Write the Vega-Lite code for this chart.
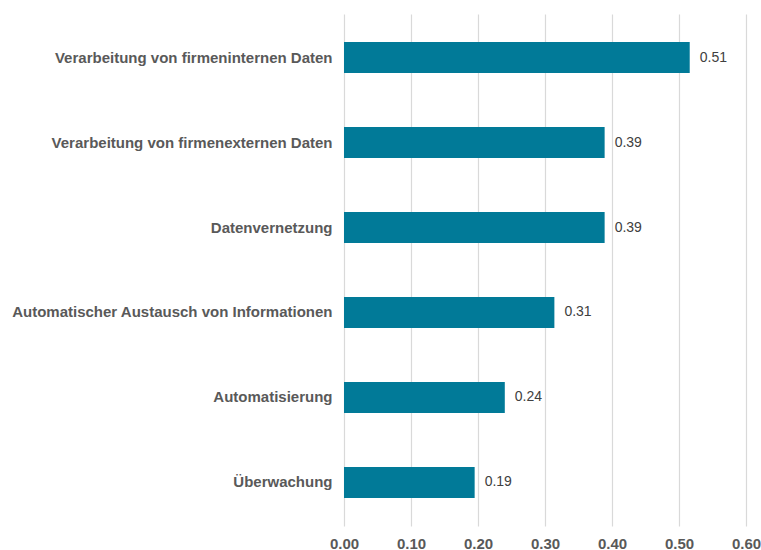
{
  "$schema": "https://vega.github.io/schema/vega-lite/v6.json",
  "width": 402,
  "height": 512,
  "autosize": {"type": "none"},
  "padding": {"left": 344, "top": 14, "right": 15, "bottom": 24},
  "background": "white",
  "config": {"view": {"stroke": null}, "font": "Liberation Sans"},
  "data": {
    "values": [
      {"kategorie": "Verarbeitung von firmeninternen Daten", "wert": 0.516, "label": "0.51"},
      {"kategorie": "Verarbeitung von firmenexternen Daten", "wert": 0.389, "label": "0.39"},
      {"kategorie": "Datenvernetzung", "wert": 0.389, "label": "0.39"},
      {"kategorie": "Automatischer Austausch von Informationen", "wert": 0.314, "label": "0.31"},
      {"kategorie": "Automatisierung", "wert": 0.24, "label": "0.24"},
      {"kategorie": "Überwachung", "wert": 0.195, "label": "0.19"}
    ]
  },
  "encoding": {
    "y": {
      "field": "kategorie",
      "type": "nominal",
      "sort": null,
      "scale": {"paddingInner": 0.635, "paddingOuter": 0.33},
      "axis": {
        "title": null,
        "domain": false,
        "ticks": false,
        "labelPadding": 12,
        "labelFont": "Liberation Sans",
        "labelFontSize": 15,
        "labelFontWeight": "bold",
        "labelColor": "#595959",
        "labelLimit": 400
      }
    },
    "x": {
      "field": "wert",
      "type": "quantitative",
      "scale": {"domain": [0, 0.6], "nice": false},
      "axis": {
        "title": null,
        "values": [0, 0.1, 0.2, 0.3, 0.4, 0.5, 0.6],
        "format": ".2f",
        "domain": false,
        "ticks": false,
        "grid": true,
        "gridColor": "#d9d9d9",
        "gridWidth": 1.2,
        "labelPadding": 10,
        "labelFont": "Liberation Sans",
        "labelFontSize": 15,
        "labelFontWeight": "bold",
        "labelColor": "#595959",
        "labelFlush": false
      }
    }
  },
  "layer": [
    {"mark": {"type": "bar", "color": "#017A98"}},
    {
      "mark": {"type": "text", "align": "left", "baseline": "middle", "dx": 10, "font": "Liberation Sans", "fontSize": 14, "color": "#404040"},
      "encoding": {"text": {"field": "label"}}
    }
  ]
}
